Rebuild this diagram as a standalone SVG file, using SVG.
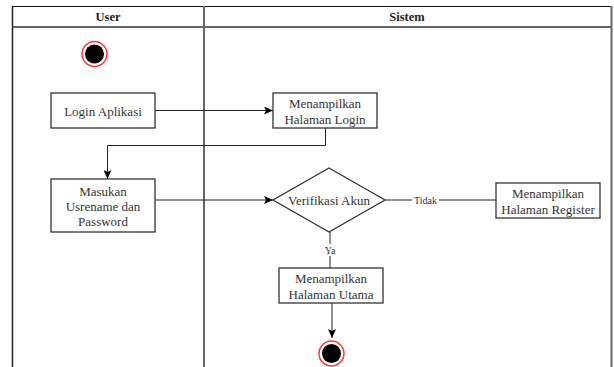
<svg xmlns="http://www.w3.org/2000/svg" width="614" height="367" viewBox="0 0 614 367">
  <style>
    text { font-family: "Liberation Serif", "Times New Roman", serif; font-size: 13px; fill: #333; }
    .hdr { font-weight: bold; fill: #222; font-size: 12.5px; }
    .box { fill: #fff; stroke: #333; stroke-width: 1.3; }
    .edge { fill: none; stroke: #222; stroke-width: 1; }
    .lane { stroke: #666; stroke-width: 2; }
    .ring { fill: #fff; stroke: #f33; stroke-width: 1.5; }
    .dot { fill: #000; }
    .lbl { font-size: 10px; }
  </style>
  <defs>
    <marker id="arrow" markerWidth="10" markerHeight="8" refX="9" refY="4" orient="auto" markerUnits="userSpaceOnUse">
      <path d="M0,0 L9,4 L0,8 L2,4 Z" fill="#000"/>
    </marker>
  </defs>

  <rect width="614" height="367" fill="#fff"/>

  <!-- swimlanes -->
  <g id="lanes">
    <line x1="12" y1="6.5" x2="612" y2="6.5" stroke="#111" stroke-width="1.2"/>
    <line x1="12" y1="27" x2="612" y2="27" class="lane"/>
    <line x1="12.5" y1="6" x2="12.5" y2="367" stroke="#222" stroke-width="1.5"/>
    <line x1="204" y1="6" x2="204" y2="367" class="lane"/>
    <line x1="611.5" y1="6" x2="611.5" y2="367" class="lane"/>
    <text x="108" y="21" text-anchor="middle" class="hdr">User</text>
    <text x="407" y="21" text-anchor="middle" class="hdr">Sistem</text>
  </g>

  <!-- connectors -->
  <g id="connectors">
    <line x1="155" y1="110.5" x2="273" y2="110.5" class="edge" marker-end="url(#arrow)"/>
    <path d="M325.5,128 V145.5 H107.5 V179" class="edge" marker-end="url(#arrow)"/>
    <line x1="155" y1="200" x2="273" y2="200" class="edge" marker-end="url(#arrow)"/>
    <line x1="385" y1="200" x2="496" y2="200" class="edge"/>
    <line x1="330" y1="232" x2="330" y2="268" class="edge"/>
    <line x1="332" y1="303" x2="332" y2="338" class="edge" marker-end="url(#arrow)"/>
    <rect x="412" y="194" width="27" height="12" fill="#fff"/>
    <text x="425.5" y="203.5" text-anchor="middle" class="lbl">Tidak</text>
    <rect x="323" y="244" width="14" height="12" fill="#fff"/>
    <text x="330" y="253.5" text-anchor="middle" class="lbl">Ya</text>
  </g>

  <g id="start">
    <circle cx="94.5" cy="54" r="12.5" class="ring"/>
    <circle cx="94.5" cy="54" r="9.5" class="dot"/>
  </g>

  <g id="login-aplikasi">
    <rect x="51" y="93" width="104" height="35" class="box"/>
    <text x="103" y="115.5" text-anchor="middle">Login Aplikasi</text>
  </g>

  <g id="halaman-login">
    <rect x="273" y="93" width="104" height="35" class="box"/>
    <text x="325" y="108" text-anchor="middle">Menampilkan</text>
    <text x="325" y="123.5" text-anchor="middle">Halaman Login</text>
  </g>

  <g id="masukan">
    <rect x="51" y="179" width="104" height="53" class="box"/>
    <text x="103" y="196" text-anchor="middle">Masukan</text>
    <text x="103" y="211" text-anchor="middle">Usrename dan</text>
    <text x="103" y="225.5" text-anchor="middle">Password</text>
  </g>

  <g id="verifikasi">
    <path d="M329,168 L385,200 L329,232 L273,200 Z" class="box"/>
    <text x="329" y="204.5" text-anchor="middle">Verifikasi Akun</text>
  </g>

  <g id="halaman-register">
    <rect x="496" y="183" width="104" height="35" class="box"/>
    <text x="548" y="197.5" text-anchor="middle">Menampilkan</text>
    <text x="548" y="214" text-anchor="middle">Halaman Register</text>
  </g>

  <g id="halaman-utama">
    <rect x="279" y="268" width="104" height="35" class="box"/>
    <text x="331" y="282.5" text-anchor="middle">Menampilkan</text>
    <text x="331" y="298.5" text-anchor="middle">Halaman Utama</text>
  </g>

  <g id="end">
    <circle cx="331.5" cy="353.5" r="12.5" class="ring"/>
    <circle cx="331.5" cy="353.5" r="9.5" class="dot"/>
  </g>
</svg>
